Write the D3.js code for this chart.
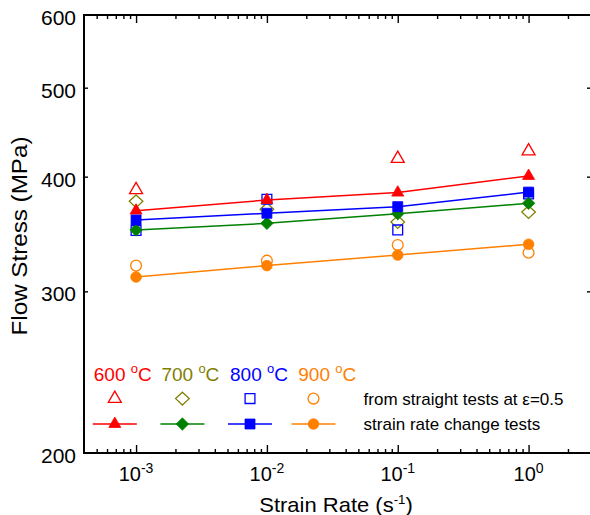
<!DOCTYPE html>
<html>
<head>
<meta charset="utf-8">
<script src="https://cdn.jsdelivr.net/npm/d3@7/dist/d3.min.js"></script>
<style>
  body { margin: 0; background: #fff; }
  svg { display: block; }
  text { font-family: "Liberation Sans", Arial, Helvetica, sans-serif; fill: #000; }
</style>
</head>
<body>
<svg id="chart" width="590" height="515"></svg>
<script>
// Strain rates (s^-1) at which the tests were run
const strainRates = [1e-3, 1e-2, 1e-1, 1];

// Flow stress (MPa) from straight tests at strain 0.5 (open symbols)
const straight600 = [387, null, 418.5, 426.5];
const straight700 = [376, 368.5, 357, 366];
const straight800 = [349.5, 378, 350, 383];
const straight900 = [320, 324, 337, 330.5];

// Flow stress (MPa) from strain rate change tests (filled symbols + lines)
const change600 = [367.3, 377.2, 384.3, 400.7];
const change700 = [349.9, 355.8, 364.5, 374.2];
const change800 = [358.8, 364.9, 371, 384.8];
const change900 = [311, 320, 328.6, 337.6];

// Temperatures and axis tick labels
const temperatures = ["600", "700", "800", "900"];
const stressTicks = [200, 300, 400, 500, 600];
const rateExponents = [-3, -2, -1, 0];

// Appearance of each temperature series
const styles = {
  "600": { line: "#ff0000", open: "#ff0000", label: "#ff0000", shape: "triangle" },
  "700": { line: "#008000", open: "#808000", label: "#808000", shape: "diamond" },
  "800": { line: "#0000ff", open: "#0000ff", label: "#0000ff", shape: "square" },
  "900": { line: "#ff8000", open: "#ff8000", label: "#ff8000", shape: "circle" }
};
const straightByTemp = { "600": straight600, "700": straight700, "800": straight800, "900": straight900 };
const changeByTemp = { "600": change600, "700": change700, "800": change800, "900": change900 };

const svg = d3.select("#chart");
const plotLeft = 84, plotRight = 591, plotTop = 15, plotBottom = 453;

const x = d3.scaleLog().domain([4e-4, 3]).range([plotLeft, plotRight]);
const y = d3.scaleLog().domain([200, 600]).range([plotBottom, plotTop]);

// Marker outlines, centred on the data point
function markerPath(shape, filled) {
  if (shape === "triangle") {
    const s = filled ? 12 : 13;
    const r = s / Math.sqrt(3);
    return `M0,${-r}L${s / 2},${r / 2}L${-s / 2},${r / 2}Z`;
  }
  if (shape === "diamond") {
    const w = filled ? 6.2 : 6.8, h = filled ? 6.2 : 6.4;
    return `M0,${-h}L${w},0L0,${h}L${-w},0Z`;
  }
  if (shape === "square") {
    const a = filled ? 5 : 4.9;
    return `M${-a},${-a}H${a}V${a}H${-a}Z`;
  }
  const r = filled ? 5.3 : 5.4;
  return `M${r},0A${r},${r} 0 1,1 ${-r},0A${r},${r} 0 1,1 ${r},0Z`;
}

// ---- axes ----
const allTicks = x.ticks();
const isDecade = v => Math.abs(Math.log10(v) - Math.round(Math.log10(v))) < 1e-9;
const majorTicks = allTicks.filter(isDecade);
const minorTicks = allTicks.filter(v => !isDecade(v) && v > 4e-4 * 1.001);

function styleAxis(g) {
  g.select(".domain").remove();
  g.selectAll(".tick line").attr("stroke", "#000").attr("stroke-width", 1.4);
}

svg.append("g").attr("transform", `translate(0,${plotBottom})`)
  .call(d3.axisBottom(x).tickValues(minorTicks).tickSize(-4).tickFormat(""))
  .call(styleAxis);
svg.append("g").attr("transform", `translate(0,${plotBottom})`)
  .call(d3.axisBottom(x).tickValues(majorTicks).tickSize(-8).tickFormat(""))
  .call(styleAxis);
svg.append("g").attr("transform", `translate(0,${plotTop})`)
  .call(d3.axisTop(x).tickValues(minorTicks).tickSize(-4).tickFormat(""))
  .call(styleAxis);
svg.append("g").attr("transform", `translate(0,${plotTop})`)
  .call(d3.axisTop(x).tickValues(majorTicks).tickSize(-8).tickFormat(""))
  .call(styleAxis);

const yAxis = svg.append("g").attr("transform", `translate(${plotLeft},0)`)
  .call(d3.axisLeft(y).tickValues(stressTicks).tickSize(-4).tickPadding(8).tickFormat(d3.format("d")))
  .call(styleAxis);
yAxis.selectAll(".tick text")
  .attr("font-size", 21).attr("font-family", null).attr("dy", "0.45em").attr("fill", "#000");
yAxis.selectAll(".tick line").filter(d => d === 200 || d === 600).remove();

svg.append("g").attr("transform", `translate(${plotRight},0)`)
  .call(d3.axisRight(y).tickValues(stressTicks.filter(d => d > 200 && d < 600)).tickSize(-4).tickFormat(""))
  .call(styleAxis);

// Decade labels on the strain-rate axis
const xLabels = svg.append("g");
rateExponents.forEach(e => {
  const t = xLabels.append("text")
    .attr("x", x(Math.pow(10, e))).attr("y", 481)
    .attr("text-anchor", "middle").attr("font-size", 20);
  t.append("tspan").text("10");
  t.append("tspan").attr("font-size", 14).attr("dy", -8).text(String(e));
});

// Frame
svg.append("rect")
  .attr("x", plotLeft).attr("y", plotTop)
  .attr("width", plotRight - plotLeft).attr("height", plotBottom - plotTop)
  .attr("fill", "none").attr("stroke", "#000").attr("stroke-width", 2);

// Axis titles
const xTitle = svg.append("text")
  .attr("transform", "translate(336,512) scale(1.1,1)")
  .attr("text-anchor", "middle").attr("font-size", 20);
xTitle.append("tspan").text("Strain Rate (s");
xTitle.append("tspan").attr("font-size", 12).attr("dy", -8).text("-1");
xTitle.append("tspan").attr("dy", 8).text(")");

svg.append("text")
  .attr("transform", "translate(27,236) rotate(-90) scale(1.1,1)")
  .attr("text-anchor", "middle").attr("font-size", 22)
  .text("Flow Stress (MPa)");

// ---- data ----
const plot = svg.append("g");

// Straight-test points (open symbols)
temperatures.forEach(T => {
  const st = styles[T];
  plot.append("g").selectAll("path")
    .data(straightByTemp[T].map((v, i) => ({ rate: strainRates[i], v })).filter(d => d.v !== null))
    .join("path")
    .attr("transform", d => `translate(${x(d.rate)},${y(d.v)})`)
    .attr("d", markerPath(st.shape, false))
    .attr("fill", "none").attr("stroke", st.open).attr("stroke-width", 1.3);
});

// Strain-rate-change results (lines with filled symbols)
const line = d3.line().x(d => x(d.rate)).y(d => y(d.v));
temperatures.forEach(T => {
  const st = styles[T];
  const pts = changeByTemp[T].map((v, i) => ({ rate: strainRates[i], v }));
  plot.append("path").datum(pts)
    .attr("d", line).attr("fill", "none").attr("stroke", st.line).attr("stroke-width", 1.5);
  plot.append("g").selectAll("path").data(pts).join("path")
    .attr("transform", d => `translate(${x(d.rate)},${y(d.v)})`)
    .attr("d", markerPath(st.shape, true))
    .attr("fill", st.line).attr("stroke", st.line).attr("stroke-width", 0.8);
});

// ---- legend ----
const legend = svg.append("g");
const labelX = [93.8, 161.4, 230, 298.3];
const markX = [114.8, 182.4, 250, 313.5];
temperatures.forEach((T, i) => {
  const st = styles[T];
  const t = legend.append("text").attr("x", labelX[i]).attr("y", 380.7)
    .attr("font-size", 19).style("fill", st.label);
  t.append("tspan").text(T + " ");
  t.append("tspan").attr("font-size", 13).attr("dy", -8).text("o");
  t.append("tspan").attr("dy", 8).text("C");

  legend.append("path")
    .attr("transform", `translate(${markX[i]},398.6)`)
    .attr("d", markerPath(st.shape, false))
    .attr("fill", "none").attr("stroke", st.open).attr("stroke-width", 1.3);

  legend.append("line")
    .attr("x1", markX[i] - 22).attr("x2", markX[i] + 22)
    .attr("y1", 424).attr("y2", 424)
    .attr("stroke", st.line).attr("stroke-width", 1.5);
  legend.append("path")
    .attr("transform", `translate(${markX[i]},424)`)
    .attr("d", markerPath(st.shape, true))
    .attr("fill", st.line).attr("stroke", st.line).attr("stroke-width", 0.8);
});
legend.append("text").attr("x", 363.6).attr("y", 405).attr("font-size", 17)
  .text("from straight tests at \u03b5=0.5");
legend.append("text").attr("x", 363.6).attr("y", 430.4).attr("font-size", 17)
  .text("strain rate change tests");
</script>
</body>
</html>
